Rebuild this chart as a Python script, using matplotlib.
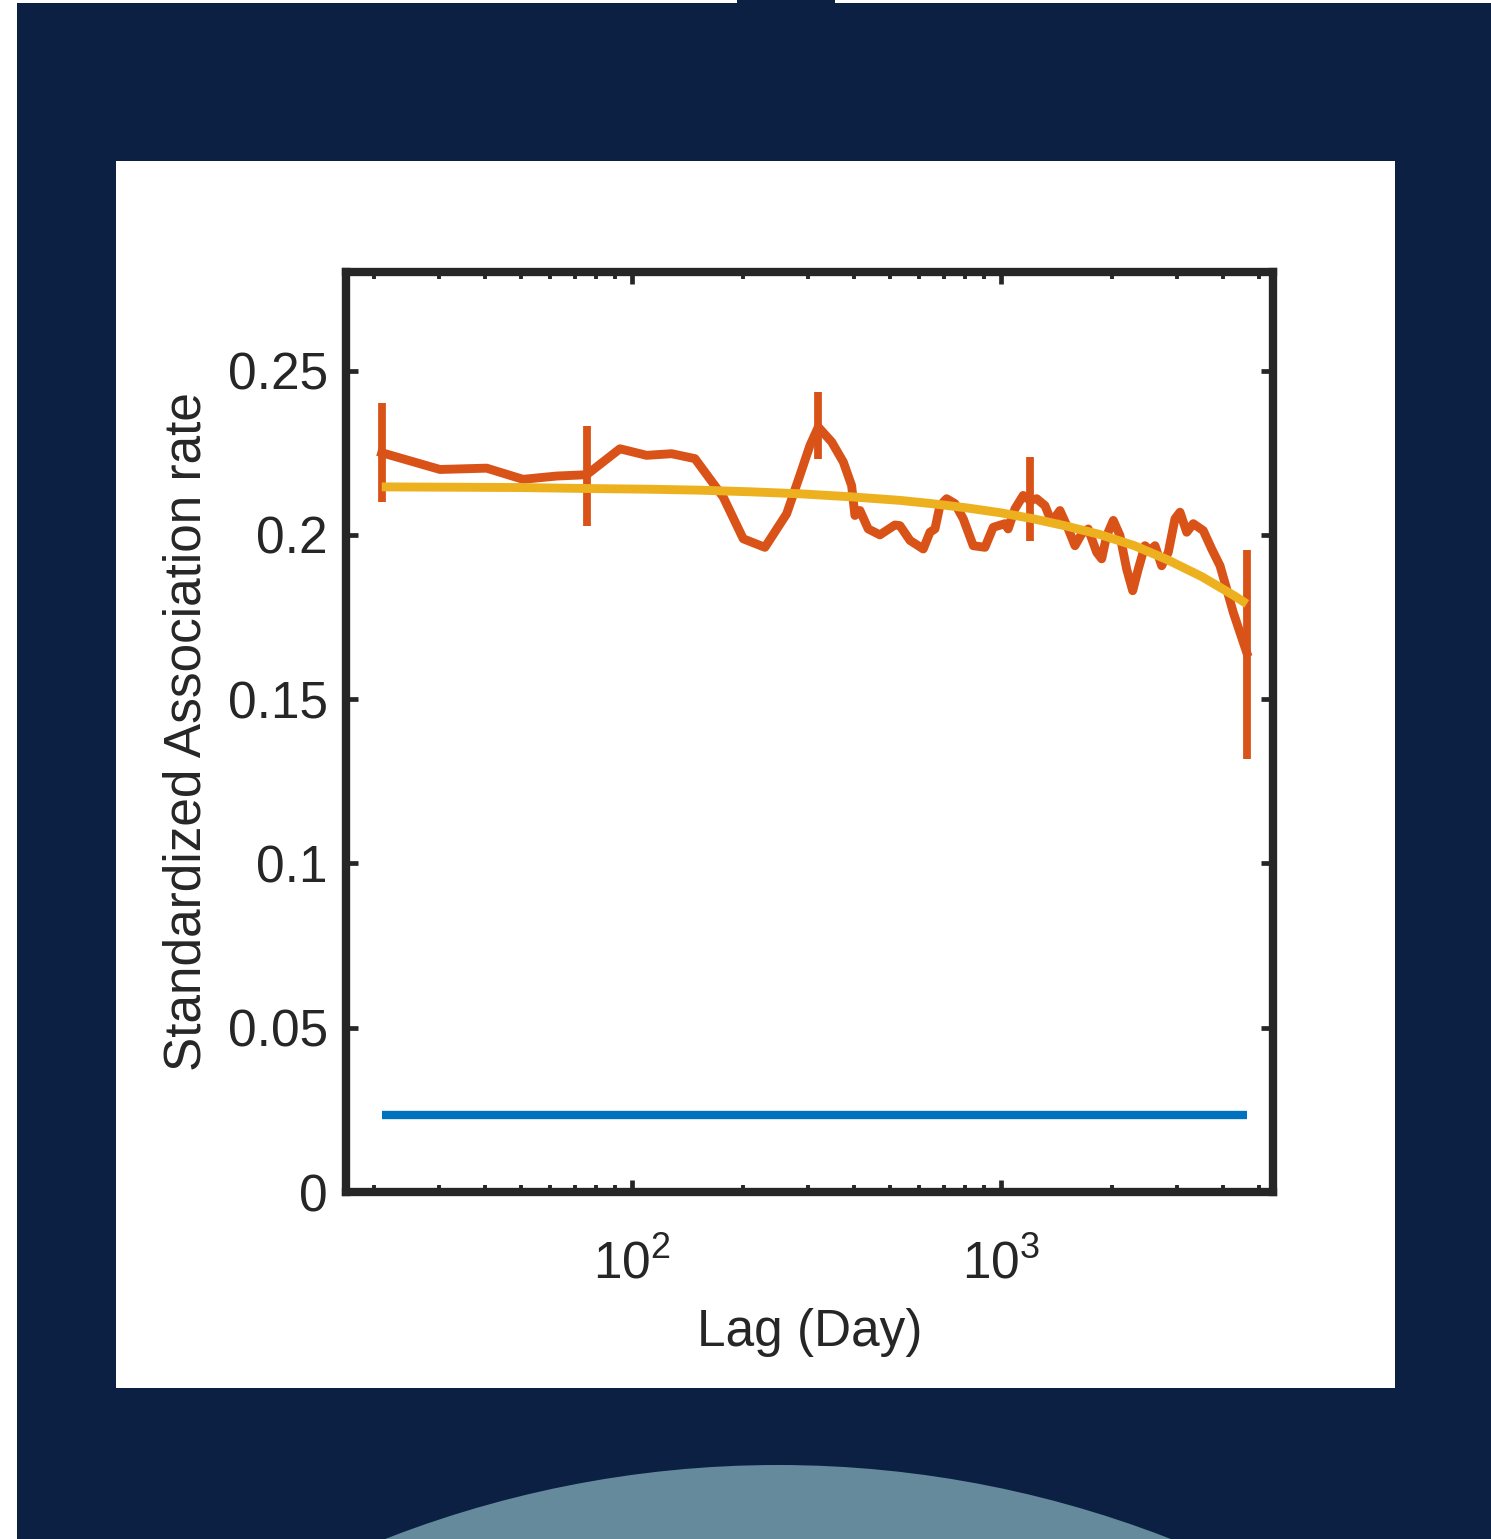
import numpy as np
import matplotlib
matplotlib.use('Agg')
import matplotlib.pyplot as plt
from matplotlib.patches import Rectangle, Circle

plt.rcParams['font.family'] = ['Liberation Sans', 'DejaVu Sans']
plt.rcParams['mathtext.fontset'] = 'custom'
plt.rcParams['mathtext.rm'] = 'Liberation Sans'
plt.rcParams['mathtext.it'] = 'Liberation Sans'

# observed association rate vs lag (days)
lag = [21.0, 30.2, 40.4, 50.7, 62.5, 75.4, 92.8, 109.6, 128.1, 148.2,
       176.8, 200.3, 229.3, 262.6, 285.2, 303.7, 319.9, 347.7, 373.9, 393.9,
       402.1, 414.9, 436.9, 470, 516, 532.5, 567, 615.9, 642.2, 662.5,
       683.5, 712.6, 750.5, 790.4, 841.3, 904.8, 953.0, 1025, 1046, 1091,
       1149, 1198, 1250, 1316, 1372, 1445, 1522, 1587, 1655, 1724,
       1817, 1875, 1934, 2016, 2101, 2191, 2275, 2356, 2456, 2534,
       2615, 2726, 2841, 2962, 3056, 3187, 3320, 3534, 3724, 3923,
       4090, 4261, 4443, 4634]
rate = [0.2250, 0.2199, 0.2203, 0.2169, 0.2179, 0.2183, 0.2262, 0.2242, 0.2247, 0.2232,
        0.2115, 0.1988, 0.1962, 0.2064, 0.2181, 0.2272, 0.2328, 0.2283, 0.2222, 0.2150,
        0.2059, 0.2074, 0.2018, 0.2000, 0.2030, 0.2028, 0.1983, 0.1957, 0.2008, 0.2018,
        0.2089, 0.2110, 0.2095, 0.2049, 0.1967, 0.1962, 0.2023, 0.2034, 0.2018, 0.2079,
        0.2120, 0.2105, 0.2110, 0.2089, 0.2039, 0.2074, 0.2018, 0.1967, 0.2003, 0.2018,
        0.1947, 0.1927, 0.1997, 0.2044, 0.1998, 0.1896, 0.1830, 0.1896, 0.1967, 0.1952,
        0.1967, 0.1906, 0.1947, 0.2049, 0.2069, 0.2008, 0.2034, 0.2013, 0.1957, 0.1906,
        0.1835, 0.1764, 0.1703, 0.1642]

# error bars on a few lags
err_lag = [21.0, 75.4, 319.9, 1198, 4634]
err_val = [0.2251, 0.2180, 0.2334, 0.2110, 0.1635]
err_size = [0.0150, 0.0152, 0.0102, 0.0128, 0.0318]

# fitted model curve
fit_lag = [21.0, 50, 76.5, 110, 152.9, 210, 285, 390, 532, 650, 809, 1000,
           1222, 1500, 1854, 2300, 2816, 3500, 4253, 4634]
fit_val = [0.2146, 0.2144, 0.2141, 0.2139, 0.2136, 0.2131, 0.2125, 0.2116, 0.2105,
           0.2095, 0.2082, 0.2067, 0.2049, 0.2027, 0.2001, 0.1967, 0.1925, 0.1873,
           0.1817, 0.1790]

# null association rate
null_lag = [21.0, 4634]
null_val = [0.0235, 0.0235]

orange = '#D95319'
yellow = '#EDB120'
blue = '#0072BD'
ink = '#262626'

W, H = 1491, 1539
fig = plt.figure(figsize=(W / 100, H / 100), dpi=100, facecolor='#0c2043')

# page decoration behind the chart
bg = fig.add_axes([0, 0, 1, 1], zorder=0)
bg.set_xlim(0, W)
bg.set_ylim(H, 0)
bg.axis('off')
bg.add_patch(Rectangle((0, 0), 17, H, color='white', lw=0))
bg.add_patch(Rectangle((0, 0), 737, 2.5, color='white', lw=0))
bg.add_patch(Rectangle((835, 0), W - 835, 2.5, color='white', lw=0))
bg.add_patch(Rectangle((116, 161), 1279, 1227, color='white', lw=0))
bg.add_patch(Circle((778, 2545), 1080, color='#658a9c', lw=0))

ax = fig.add_axes([346 / W, (H - 1192) / H, (1273 - 346) / W, (1192 - 272) / H], zorder=1)
ax.set_facecolor('white')

ax.plot(lag, rate, color=orange, lw=6.4, solid_joinstyle='round')
ax.errorbar(err_lag, err_val, yerr=err_size, fmt='none', ecolor=orange,
            elinewidth=5.6, capsize=0)
ax.plot(fit_lag, fit_val, color=yellow, lw=6.4, solid_capstyle='butt')
ax.plot(null_lag, null_val, color=blue, lw=6.0, solid_capstyle='butt')

ax.set_xscale('log')
ax.set_xlim(16.8, 5460)
ax.set_ylim(0, 0.28)

ax.set_xticks([100, 1000])
ax.set_xticklabels([r'$\mathregular{10^{2}}$', r'$\mathregular{10^{3}}$'])
minor = [20, 30, 40, 50, 60, 70, 80, 90, 200, 300, 400, 500, 600, 700, 800, 900,
         2000, 3000, 4000, 5000]
ax.set_xticks(minor, minor=True)
ax.set_xticklabels([], minor=True)
ax.set_yticks([0, 0.05, 0.1, 0.15, 0.2, 0.25])
ax.set_yticklabels(['0', '0.05', '0.1', '0.15', '0.2', '0.25'])

ax.tick_params(which='both', direction='in', top=True, right=True, colors=ink,
               labelsize=37)
ax.tick_params(which='major', length=8.5, width=3.4)
ax.tick_params(which='minor', length=5, width=2.8)
ax.tick_params(axis='y', pad=13)
ax.tick_params(axis='x', pad=34)

for s in ax.spines.values():
    s.set_linewidth(6)
    s.set_color(ink)

ax.set_xlabel('Lag (Day)', fontsize=37, color=ink, labelpad=14)
ax.set_ylabel('Standardized Association rate', fontsize=37, color=ink, labelpad=12)

fig.savefig('out.png', dpi=100, facecolor=fig.get_facecolor())
